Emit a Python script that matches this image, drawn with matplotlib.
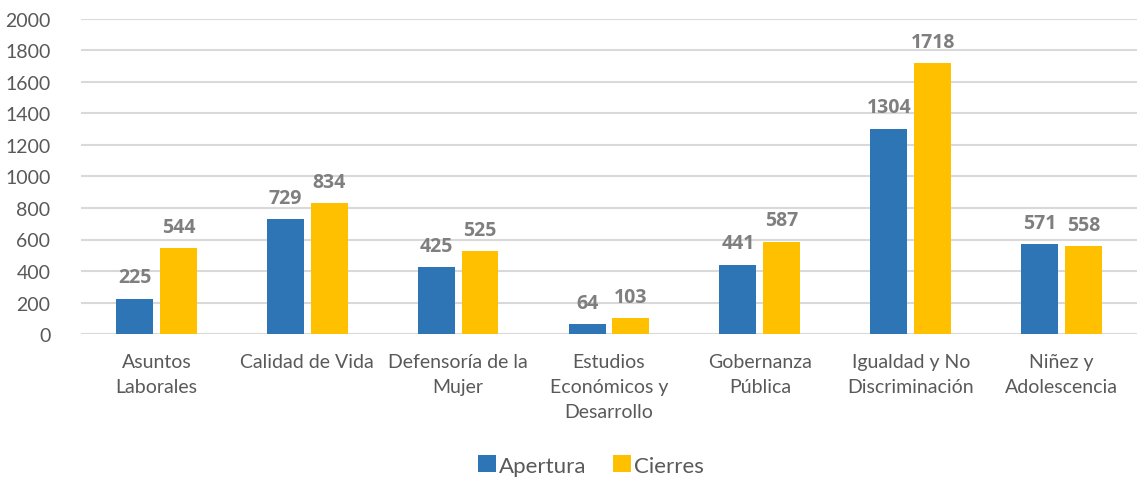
import matplotlib
matplotlib.use("Agg")
import matplotlib.pyplot as plt
import numpy as np

categories = ["Asuntos\nLaborales", "Calidad de Vida", "Defensoría de la\nMujer",
              "Estudios\nEconómicos y\nDesarrollo", "Gobernanza\nPública",
              "Igualdad y No\nDiscriminación", "Niñez y\nAdolescencia"]
apertura = [225, 729, 425, 64, 441, 1304, 571]
cierres = [544, 834, 525, 103, 587, 1718, 558]
series_names = ["Apertura", "Cierres"]
yticks = [0, 200, 400, 600, 800, 1000, 1200, 1400, 1600, 1800, 2000]

plt.rcParams['font.family'] = ['Lato', 'DejaVu Sans']
blue = "#2e75b6"
gold = "#ffc000"
txt = "#595959"

fig = plt.figure(figsize=(11.37, 4.81), dpi=100)
ax = fig.add_axes([0.0712, 0.3035, 0.9288, 0.655])
x = np.arange(len(categories))
w = 0.245
off = 0.145
b1 = ax.bar(x - off, apertura, w, color=blue, label=series_names[0], zorder=3)
b2 = ax.bar(x + off, cierres, w, color=gold, label=series_names[1], zorder=3)
for bars, vals in ((b1, apertura), (b2, cierres)):
    for r, v in zip(bars, vals):
        ax.annotate(str(v), (r.get_x() + r.get_width() / 2, v), xytext=(0, 8),
                    textcoords="offset points", ha="center", va="bottom",
                    fontsize=14, fontweight="bold", color="#7f7f7f",
                    family=['Open Sans', 'DejaVu Sans'])
ax.set_xlim(-0.5, len(categories) - 0.5)
ax.set_ylim(0, 2000)
ax.set_yticks(yticks)
ax.set_yticklabels([str(t) for t in yticks])
ax.set_xticks(x)
ax.set_xticklabels(categories, linespacing=1.55)
ax.tick_params(axis='both', length=0, labelsize=14, colors=txt)
ax.tick_params(axis='x', pad=14)
ax.tick_params(axis='y', pad=22)
ax.grid(axis='y', color="#d9d9d9", linewidth=1.5, zorder=0)
for s in ax.spines.values():
    s.set_visible(False)
leg = fig.legend(loc="center", bbox_to_anchor=(0.52, 0.03), ncol=2, frameon=False,
                 fontsize=16, handlelength=0.8, handleheight=0.8, handletextpad=0.15,
                 columnspacing=1.2, labelcolor=txt)
fig.savefig("out.png", dpi=100)
